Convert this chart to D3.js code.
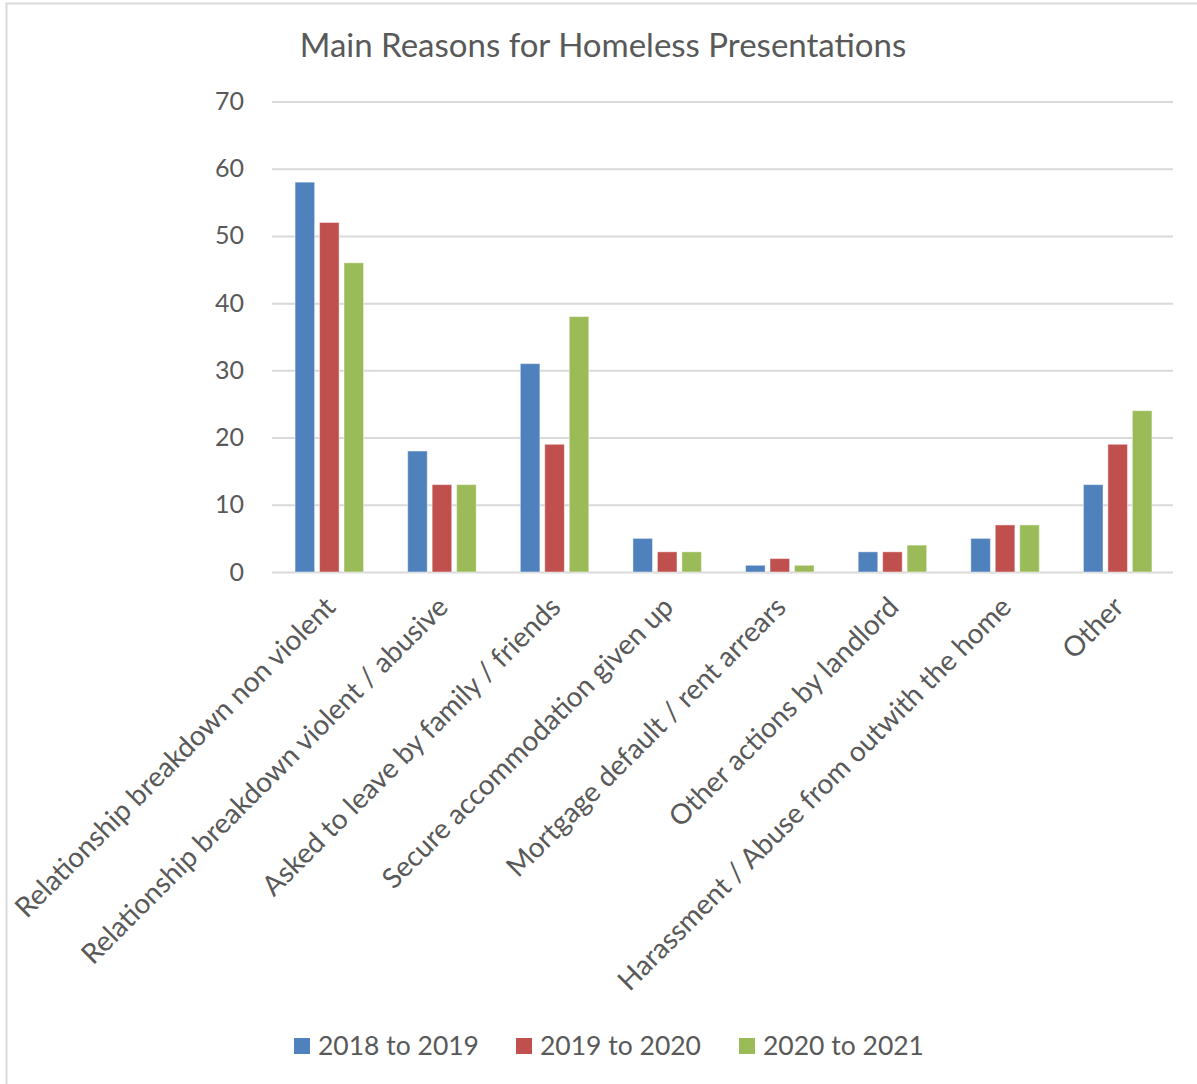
<!DOCTYPE html>
<html>
<head>
<meta charset="utf-8">
<script src="https://cdn.jsdelivr.net/npm/d3@7"></script>
<style>
  html, body { margin: 0; padding: 0; background: #fff; }
  svg text { font-family: Lato, "Open Sans", sans-serif; fill: #595959; }
</style>
</head>
<body>
<svg id="chart" width="1197" height="1084"></svg>
<script>
// Chart data
const categories = [
  "Relationship breakdown non violent",
  "Relationship breakdown violent / abusive",
  "Asked to leave by family / friends",
  "Secure accommodation given up",
  "Mortgage default / rent arrears",
  "Other actions by landlord",
  "Harassment / Abuse from outwith the home",
  "Other"
];
const seriesNames = ["2018 to 2019", "2019 to 2020", "2020 to 2021"];
const values2018 = [58, 18, 31, 5, 1, 3, 5, 13];
const values2019 = [52, 13, 19, 3, 2, 3, 7, 19];
const values2020 = [46, 13, 38, 3, 1, 4, 7, 24];
const yTicks = [0, 10, 20, 30, 40, 50, 60, 70];
const colors = ["#4f81bd", "#c0504d", "#9bbb59"];
const title = "Main Reasons for Homeless Presentations";

const series = [values2018, values2019, values2020];

const svg = d3.select("#chart");

// outer frame
svg.append("rect")
  .attr("x", 6.5).attr("y", 3.5)
  .attr("width", 1300).attr("height", 1200)
  .attr("fill", "none").attr("stroke", "#d9d9d9").attr("stroke-width", 2);

const plot = { left: 272, right: 1173, top: 101.5, bottom: 572 };

const x = d3.scaleBand()
  .domain(categories)
  .range([plot.left, plot.right])
  .paddingInner(0).paddingOuter(0);

const groupWidth = 68.5;
const xSeries = d3.scaleBand()
  .domain(d3.range(series.length))
  .range([0, groupWidth])
  .paddingInner(0.2);

const y = d3.scaleLinear().domain([0, 70]).range([plot.bottom, plot.top]);

// title
svg.append("text")
  .attr("x", 603).attr("y", 57)
  .attr("text-anchor", "middle")
  .style("font-size", "33px")
  .text(title);

// gridlines + value axis
const yAxis = d3.axisLeft(y).tickValues(yTicks).tickSize(-(plot.right - plot.left)).tickPadding(28).tickFormat(d3.format("d"));
const gAxis = svg.append("g").attr("transform", `translate(${plot.left},0)`).call(yAxis);
gAxis.select(".domain").remove();
gAxis.selectAll(".tick line").attr("stroke", "#d9d9d9").attr("stroke-width", 2);
gAxis.selectAll(".tick text").style("font-size", "25px").attr("fill", "#595959");

// bars
const groups = svg.append("g").selectAll("g")
  .data(categories)
  .join("g")
  .attr("transform", d => `translate(${x(d) + x.bandwidth() / 2 - groupWidth / 2 + 1},0)`);

groups.selectAll("rect")
  .data((d, i) => series.map((s, k) => ({ k, v: s[i] })))
  .join("rect")
  .attr("x", d => xSeries(d.k))
  .attr("width", xSeries.bandwidth())
  .attr("y", d => y(d.v))
  .attr("height", d => y(0) - y(d.v))
  .attr("fill", d => colors[d.k])
  .attr("stroke", "#ffffff")
  .attr("stroke-opacity", 0.45)
  .attr("stroke-width", 1);

// category labels, rotated
svg.append("g").selectAll("text")
  .data(categories)
  .join("text")
  .attr("transform", d => `translate(${x(d) + x.bandwidth() / 2 - 6},594) rotate(-45)`)
  .attr("text-anchor", "end")
  .attr("dy", "0.75em")
  .style("font-size", "28px")
  .text(d => d);

// legend
const legendX = [294, 516, 739];
const legend = svg.append("g").selectAll("g")
  .data(seriesNames)
  .join("g")
  .attr("transform", (d, i) => `translate(${legendX[i]},1038)`);
legend.append("rect")
  .attr("width", 16).attr("height", 16)
  .attr("fill", (d, i) => colors[i]);
legend.append("text")
  .attr("x", 24).attr("y", 17)
  .style("font-size", "26.5px")
  .text(d => d);
</script>
</body>
</html>
